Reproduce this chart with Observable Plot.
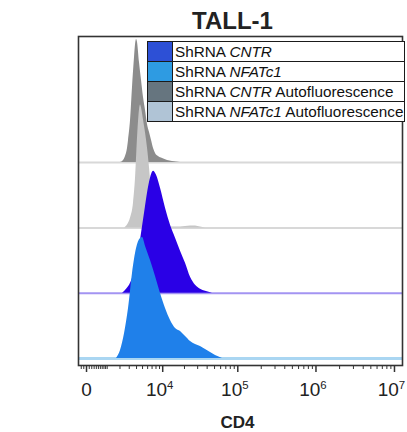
<!DOCTYPE html>
<html><head><meta charset="utf-8">
<script src="https://cdn.jsdelivr.net/npm/d3@7"></script>
<script src="https://cdn.jsdelivr.net/npm/@observablehq/plot@0.6"></script>
<style>
body{margin:0;background:#fff;}
#wrap{position:relative;width:407px;height:432px;font-family:"Liberation Sans",Arial,sans-serif;}
#legend{position:absolute;left:147px;top:41px;width:258px;border-collapse:collapse;table-layout:fixed;background:#fff;}
#legend td{border:1.3px solid #1a1a1a;height:19px;padding:0;font-size:15.3px;line-height:19px;color:#111;white-space:nowrap;}
#legend td.sw{width:24px;}
#legend td.lab{padding-left:2px;}
</style></head><body><div id="wrap"></div>
<script>
// Series (top row to bottom row)
const seriesGene   = ["CNTR", "NFATc1", "CNTR", "NFATc1"];
const seriesSuffix = [" Autofluorescence", " Autofluorescence", "", ""];
const seriesFill   = ["#8c8c8c", "#c6c6c6", "#2a00e6", "#1f80ea"];
const baseColor    = ["#d8d8d8", "#d8d8d8", "#a394f2", "#aad6f2"];

// CD4 intensity (x) and event counts (y) per series
const auto1X = [2050, 2350, 2560, 2790, 2910, 3160, 3420, 3700, 3850, 4000, 4150, 4470, 4820, 5180, 5570, 5970, 6410, 6870, 7360, 7870, 8700, 9940, 11700, 13700, 17700];
const auto1Y = [0, 2, 6, 14, 22, 42, 75, 105, 118, 123, 120, 100, 82, 65, 52, 38, 30, 22, 14, 9, 6, 4, 2, 1, 0];
const auto2X = [2460, 2790, 3160, 3560, 3850, 4150, 4470, 4640, 4820, 5180, 5570, 5970, 6410, 6870, 7360, 8140, 9300, 10960, 12880, 17680, 24100, 28100, 32700, 38100];
const auto2Y = [0, 3, 10, 25, 50, 90, 118, 123, 120, 108, 95, 80, 60, 35, 18, 8, 4, 2, 1, 1, 2, 2, 1, 0];
const cntrX  = [2250, 2680, 3160, 3850, 4310, 4820, 5370, 5970, 6630, 7360, 8140, 9300, 10960, 12880, 15110, 17680, 20650, 24100, 28100, 32700, 38100, 47000];
const cntrY  = [0, 4, 10, 25, 40, 60, 80, 100, 115, 122, 118, 105, 85, 68, 55, 42, 30, 16, 8, 4, 2, 0];
const nfatX  = [1690, 2050, 2460, 2910, 3420, 4000, 4640, 5000, 5570, 6630, 7870, 9300, 10960, 12880, 15110, 17680, 20650, 24100, 28100, 32700, 38100, 44300, 51500, 63400];
const nfatY  = [0, 8, 25, 50, 85, 110, 120, 121, 112, 98, 82, 65, 50, 38, 30, 27, 22, 17, 14, 12, 9, 6, 3, 0];

const seriesX = [auto1X, auto2X, cntrX, nfatX];
const seriesY = [auto1Y, auto2Y, cntrY, nfatY];

// Axis ticks
const zeroTick   = [0];
const powerTicks = [1e4, 1e5, 1e6, 1e7];
const powerExps  = ["4", "5", "6", "7"];
const majorTicks = [0, 1e4, 1e5, 1e6, 1e7];
const minorTicks = [-200, -100, 100, 200, 300, 400, 500, 600, 700, 800, 900, 1000,
  2000, 3000, 4000, 5000, 6000, 7000, 8000, 9000,
  2e4, 3e4, 4e4, 5e4, 6e4, 7e4, 8e4, 9e4,
  2e5, 3e5, 4e5, 5e5, 6e5, 7e5, 8e5, 9e5,
  2e6, 3e6, 4e6, 5e6, 6e6, 7e6, 8e6, 9e6];

// Legend (top of legend order)
const legendGene   = ["CNTR", "NFATc1", "CNTR", "NFATc1"];
const legendSuffix = ["", "", " Autofluorescence", " Autofluorescence"];
const legendColor  = ["#2d50d6", "#2e9be2", "#66757f", "#b0c4d6"];

const rowGap = 65.3, rowBase = 7;
const marks = [];
seriesX.forEach((xs, i) => {
  const off = rowBase + (3 - i) * rowGap;
  const rows = xs.map((x, j) => ({x, y1: off, y2: off + seriesY[i][j]}));
  marks.push(Plot.ruleY([off], {stroke: baseColor[i], strokeWidth: i === 3 ? 3 : 2}));
  marks.push(Plot.area(rows, {x1: "x", y1: "y1", y2: "y2", fill: seriesFill[i], curve: "monotone-x"}));
});
marks.push(Plot.frame({stroke: "#333", strokeWidth: 1.6}));
marks.push(Plot.ruleX(minorTicks, {x: d => d, y1: 0, y2: -4, stroke: "#333", strokeWidth: 1}));
marks.push(Plot.ruleX(majorTicks, {x: d => d, y1: 0, y2: -7, stroke: "#333", strokeWidth: 1.5}));
marks.push(Plot.text(zeroTick, {x: d => d, text: d => String(d), frameAnchor: "bottom", lineAnchor: "middle", dy: 24, fontSize: 19, fill: "#222"}));
marks.push(Plot.text(powerTicks, {x: d => d, text: (d, i) => "10^" + powerExps[i], frameAnchor: "bottom", lineAnchor: "middle", dy: 24, dx: -3, fontSize: 19, fill: "#222"}));
marks.push(Plot.text(["CD4"], {text: d => d, frameAnchor: "bottom", lineAnchor: "middle", dy: 57.5, dx: -3, fontSize: 17, fontWeight: "bold", fill: "#222"}));
marks.push(Plot.text(["TALL-1"], {text: d => d, frameAnchor: "top", lineAnchor: "middle", dy: -15, dx: -8, fontSize: 24, fontWeight: "bold", fill: "#222"}));

const chart = Plot.plot({
  width: 407, height: 432,
  marginLeft: 78, marginRight: 5, marginTop: 36, marginBottom: 67,
  style: {fontFamily: "'Liberation Sans', Arial, sans-serif", background: "#fff", overflow: "visible"},
  x: {type: "symlog", constant: 1200, domain: [-318, 12650000], axis: null},
  y: {domain: [0, 329], axis: null},
  marks
});
// turn "10^n" into 10 with a raised exponent
d3.select(chart).selectAll("text").each(function() {
  const t = this.textContent;
  if (/^10\^\d$/.test(t)) {
    const exp = t.slice(3);
    this.textContent = "10";
    d3.select(this).append("tspan").attr("dy", "-0.55em").attr("font-size", "0.6em").text(exp);
  }
});
const wrap = document.getElementById("wrap");
wrap.appendChild(chart);

const tbl = document.createElement("table");
tbl.id = "legend";
legendGene.forEach((g, i) => {
  const tr = document.createElement("tr");
  const sw = document.createElement("td"); sw.className = "sw"; sw.style.background = legendColor[i];
  const lab = document.createElement("td"); lab.className = "lab";
  lab.append("ShRNA ");
  const it = document.createElement("i"); it.textContent = g; lab.append(it);
  if (legendSuffix[i]) lab.append(legendSuffix[i]);
  tr.append(sw, lab); tbl.append(tr);
});
wrap.appendChild(tbl);
</script></body></html>
